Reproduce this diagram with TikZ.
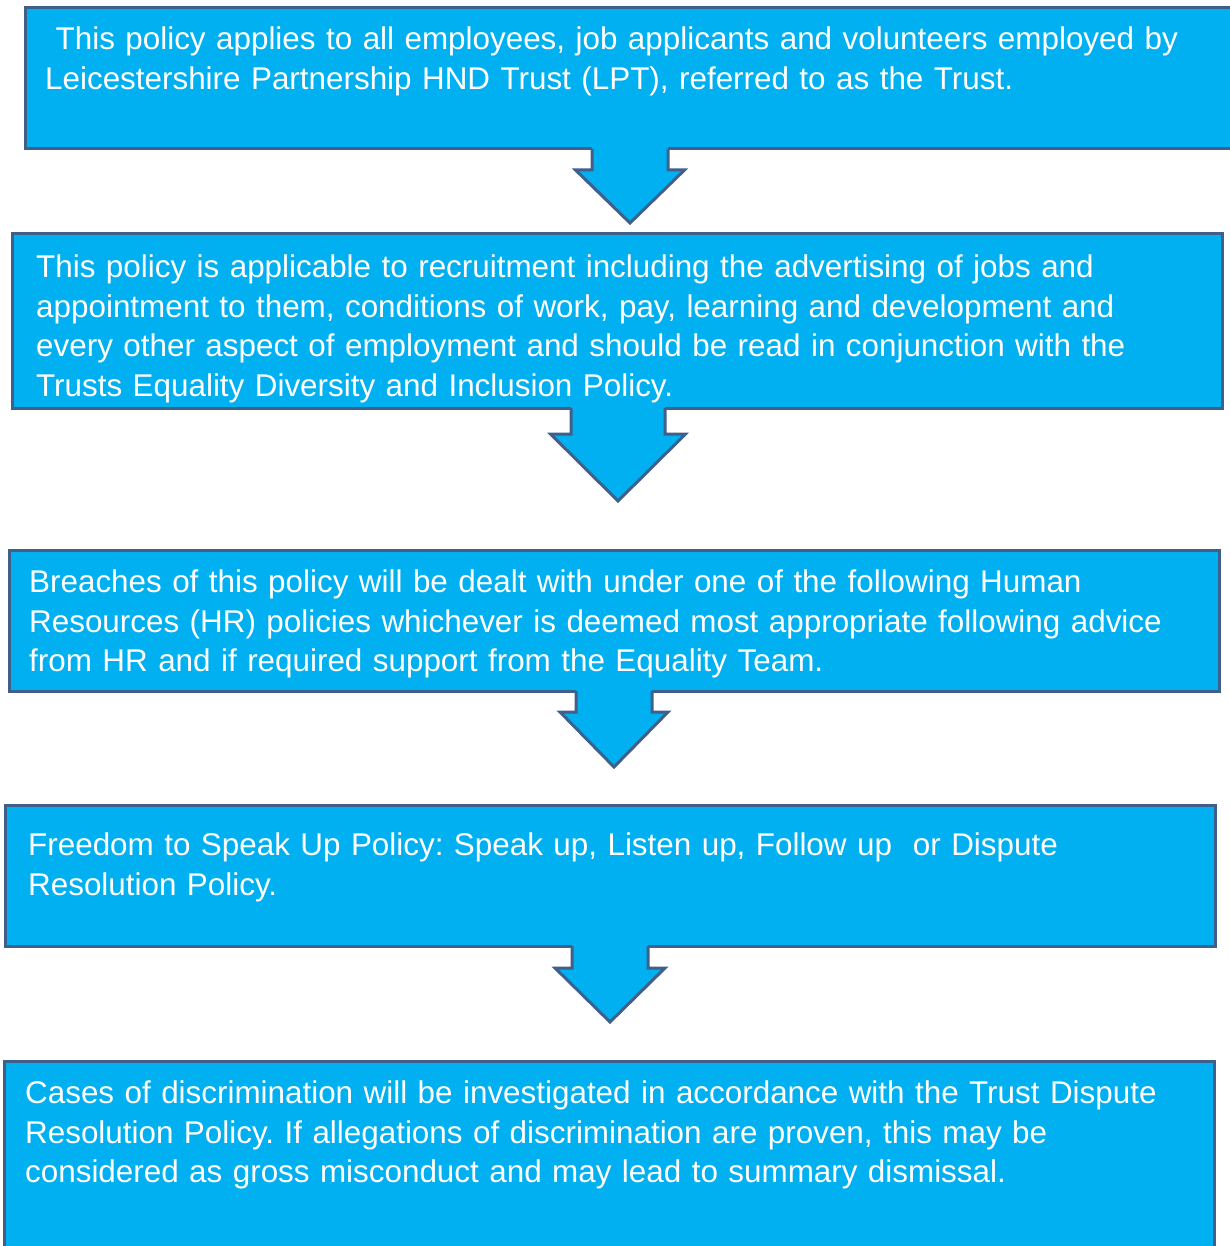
\documentclass[tikz,border=0pt]{standalone}
\usepackage{fontspec}
\setmainfont{Liberation Sans}
\definecolor{boxfill}{HTML}{00B0F0}
\definecolor{boxline}{RGB}{64,96,140}
\begin{document}
\frenchspacing
\begin{tikzpicture}[x=1pt,y=-1pt,
  policybox/.style={draw=boxline,fill=boxfill,line width=3pt},
  policytext/.style={anchor=base west,inner sep=0pt,text=white,align=left,
    text width=1200pt,font=\fontsize{31.4}{39.6}\selectfont},
  arrowfill/.style={fill=boxfill},
  arrowedge/.style={draw=boxline,line width=3pt,line join=miter}]
\useasboundingbox (0,0) rectangle (1229,1246);

% flow boxes
\path[policybox] (25,8) rectangle (1240,149);
\path[policybox] (12,234) rectangle (1222,408);
\path[policybox] (9,550) rectangle (1219,691);
\path[policybox] (5,805) rectangle (1215,946);
\path[policybox] (4,1061) rectangle (1214,1260);

% block arrow: #1 centre x, #2 top y, #3 stem half width, #4 shoulder y,
% #5 head half width, #6 tip y
\newcommand{\downarrowblock}[6]{%
  \path[arrowfill] (#1-#3,#2-3) -- (#1-#3,#4) -- (#1-#5,#4) -- (#1,#6)
     -- (#1+#5,#4) -- (#1+#3,#4) -- (#1+#3,#2-3) -- cycle;
  \draw[arrowedge] (#1-#3,#2) -- (#1-#3,#4) -- (#1-#5,#4) -- (#1,#6)
     -- (#1+#5,#4) -- (#1+#3,#4) -- (#1+#3,#2);}
\downarrowblock{630}{149}{38}{170}{54.5}{223}
\downarrowblock{618}{408}{47}{434}{67.5}{501}
\downarrowblock{614}{691}{38}{712}{54}{767}
\downarrowblock{610}{946}{38}{968}{55}{1022}

% box texts
\node[policytext] (t1) at (45,49.5) {~This policy applies to all employees, job applicants and volunteers employed by\\
Leicestershire Partnership HND Trust (LPT), referred to as the Trust.};
\node[policytext] (t2) at (36,277.5) {This policy is applicable to recruitment including the advertising of jobs and\\
appointment to them, conditions of work, pay, learning and development and\\
every other aspect of employment and should be read in conjunction with the\\
Trusts Equality Diversity and Inclusion Policy.};
\node[policytext] (t3) at (29,592.5) {Breaches of this policy will be dealt with under one of the following Human\\
Resources (HR) policies whichever is deemed most appropriate following advice\\
from HR and if required support from the Equality Team.};
\node[policytext] (t4) at (28,855.5) {Freedom to Speak Up Policy: Speak up, Listen up, Follow up\ \ or Dispute\\
Resolution Policy.};
\node[policytext] (t5) at (25,1103.5) {Cases of discrimination will be investigated in accordance with the Trust Dispute\\
Resolution Policy. If allegations of discrimination are proven, this may be\\
considered as gross misconduct and may lead to summary dismissal.};
\end{tikzpicture}
\end{document}
